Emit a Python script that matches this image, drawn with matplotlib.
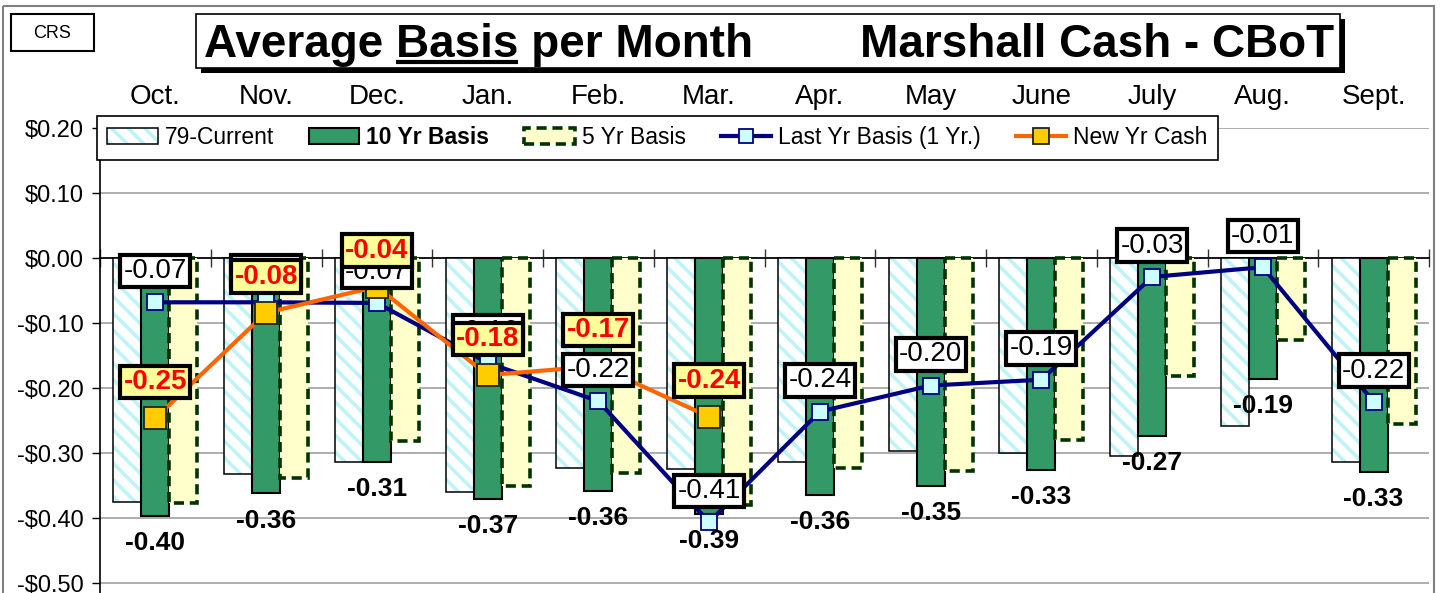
import matplotlib
matplotlib.use('Agg')
import matplotlib.pyplot as plt
import numpy as np
from matplotlib.patches import Rectangle
from matplotlib.lines import Line2D
from matplotlib.ticker import FuncFormatter, FixedLocator, NullFormatter
from matplotlib.transforms import blended_transform_factory
from matplotlib.font_manager import FontProperties
from matplotlib.legend_handler import HandlerTuple

plt.rcParams['font.family'] = ['Liberation Sans', 'DejaVu Sans']
plt.rcParams['hatch.linewidth'] = 2.6

# data
months = ['Oct.', 'Nov.', 'Dec.', 'Jan.', 'Feb.', 'Mar.', 'Apr.', 'May', 'June', 'July', 'Aug.', 'Sept.']
basis_79 = [-0.375, -0.332, -0.313, -0.360, -0.323, -0.325, -0.313, -0.296, -0.300, -0.304, -0.258, -0.314]
basis_10yr = [-0.397, -0.362, -0.314, -0.371, -0.358, -0.393, -0.364, -0.351, -0.326, -0.274, -0.186, -0.329]
basis_5yr = [-0.376, -0.338, -0.281, -0.350, -0.331, -0.380, -0.323, -0.327, -0.280, -0.182, -0.126, -0.255]
last_yr = [-0.068, -0.068, -0.069, -0.161, -0.220, -0.406, -0.236, -0.196, -0.187, -0.029, -0.014, -0.221]
new_yr = [-0.246, -0.084, -0.044, -0.180, -0.166, -0.244]

W, H = 1440, 593
fig = plt.figure(figsize=(W / 100, H / 100), dpi=100)
ax = fig.add_axes([100 / W, 0, 1329 / W, 465 / H])

x = np.arange(len(months))
bw = 0.253

# bars
hb = ax.bar(x - bw, basis_79, bw, color='white', edgecolor='#BFF4F6', linewidth=0, hatch='\\\\', zorder=2)
hb_edge = ax.bar(x - bw, basis_79, bw, fill=False, edgecolor='black', linewidth=1.1, zorder=2.1)
gb = ax.bar(x, basis_10yr, bw, color='#339966', edgecolor='black', linewidth=1.5, zorder=2.2)
yb = ax.bar(x + bw, basis_5yr, bw, color='#FFFFCC', edgecolor='#003300', linewidth=2.6,
            linestyle=(0, (2.8, 1.6)), zorder=2.3)

# lines
ax.plot(x, last_yr, color='#000080', lw=3, marker='s', ms=12, mfc='#CCFFFF', mec='#000080',
        mew=1.3, zorder=4)
xn = x[:len(new_yr)]
ax.plot(xn, new_yr, color='#FF6600', lw=3, marker='s', ms=16, mfc='#FFCC00', mec='#222222',
        mew=1.3, zorder=4.2)

# data labels
for xi, v in zip(x, basis_10yr):
    ax.annotate(f'{v:.2f}', (xi, v), xytext=(0, -19.5), textcoords='offset points',
                ha='center', va='center', fontsize=19, fontweight='bold', zorder=4.5)
for xi, v in zip(x, last_yr):
    ax.annotate(f'{v:.2f}', (xi, v), xytext=(0, 22.5), textcoords='offset points',
                ha='center', va='center', fontsize=20, zorder=5,
                bbox=dict(boxstyle='square,pad=0.12', fc='white', ec='black', lw=3))
for xi, v in zip(xn, new_yr):
    ax.annotate(f'{v:.2f}', (xi, v), xytext=(0, 26), textcoords='offset points',
                ha='center', va='center', fontsize=20, fontweight='bold', color='#FF0000',
                zorder=6, bbox=dict(boxstyle='square,pad=0.12', fc='#FFFF99', ec='black', lw=3))

# axes styling
ax.set_xlim(-0.5, 11.5)
ax.set_ylim(-0.515, 0.2)
ax.set_yticks(np.arange(-0.5, 0.21, 0.1))
ax.yaxis.set_major_formatter(FuncFormatter(lambda v, p: f'-${abs(v):.2f}' if v < -1e-9 else f'${abs(v):.2f}'))
ax.tick_params(axis='y', labelsize=17, length=6, width=1, direction='out', pad=6)
ax.grid(axis='y', color='#A0A0A0', lw=1.2)
ax.set_axisbelow(True)
for s in ['top', 'right']:
    ax.spines[s].set_visible(False)
ax.spines['left'].set_linewidth(1.2)
ax.spines['bottom'].set_position(('data', 0))
ax.spines['bottom'].set_linewidth(1.2)
ax.spines['bottom'].set_zorder(1.9)
ax.xaxis.set_major_locator(FixedLocator([]))
ax.xaxis.set_minor_locator(FixedLocator(np.arange(-0.5, 12, 1)))
ax.xaxis.set_minor_formatter(NullFormatter())
ax.tick_params(axis='x', which='minor', direction='inout', length=13, width=1, color='#333333')
ax.patch.set_alpha(0)

# month names above the plot
tr = blended_transform_factory(ax.transData, fig.transFigure)
for xi, m in zip(x, months):
    ax.text(xi, 1 - 104 / H, m, transform=tr, ha='center', va='baseline', fontsize=20, clip_on=False)

# legend
handles = [
    (hb[0], hb_edge[0]),
    gb[0],
    yb[0],
    Line2D([], [], color='#000080', lw=3, marker='s', ms=10, mfc='#CCFFFF', mec='#000080', mew=1.3),
    Line2D([], [], color='#FF6600', lw=3, marker='s', ms=11, mfc='#FFCC00', mec='#222222', mew=1.3),
]
labels = ['79-Current', '10 Yr Basis', '5 Yr Basis', 'Last Yr Basis (1 Yr.)', 'New Yr Cash']
leg = fig.legend(handles, labels, loc='upper left', ncol=5, mode='expand',
                 bbox_to_anchor=(97 / W, 1 - 162 / H, (1218 - 97) / W, 46 / H),
                 bbox_transform=fig.transFigure, borderaxespad=0, fontsize=16.5,
                 handlelength=2.2, handletextpad=0.3, columnspacing=1.2, borderpad=0.45,
                 fancybox=False, framealpha=1, edgecolor='black',
                 handler_map={tuple: HandlerTuple(ndivide=1)})
leg.get_frame().set_linewidth(1.2)
leg.get_texts()[1].set_fontweight('bold')

# overlay in pixel coordinates for title block and frame
ov = fig.add_axes([0, 0, 1, 1])
ov.set_xlim(0, W)
ov.set_ylim(H, 0)
ov.axis('off')

ov.add_patch(Rectangle((3, 6), 1431, 600, fill=False, ec='#808080', lw=1.5, clip_on=False))
ov.add_patch(Rectangle((11, 14), 83, 37, fc='white', ec='black', lw=1.5))
ov.text(52, 33, 'CRS', ha='center', va='center', fontsize=13)

ov.add_patch(Rectangle((201, 19), 1144, 54, fc='black', ec='black', lw=0))
ov.add_patch(Rectangle((196, 14), 1144, 54, fc='white', ec='black', lw=1.2))

tfont = FontProperties(family='Liberation Sans', weight='bold', size=33)
x0, base = 204, 57
ov.text(x0, base, 'Average Basis per Month', fontproperties=tfont, ha='left', va='baseline')
ov.text(1334, base, 'Marshall Cash - CBoT', fontproperties=tfont, ha='right', va='baseline')

fig.canvas.draw()
r = fig.canvas.get_renderer()
w_ab = r.get_text_width_height_descent('Average Basis', tfont, False)[0]
w_b = r.get_text_width_height_descent('Basis', tfont, False)[0]
ov.plot([x0 + w_ab - w_b, x0 + w_ab], [62, 62], color='black', lw=3, solid_capstyle='butt')

fig.savefig('out.png', dpi=100)
